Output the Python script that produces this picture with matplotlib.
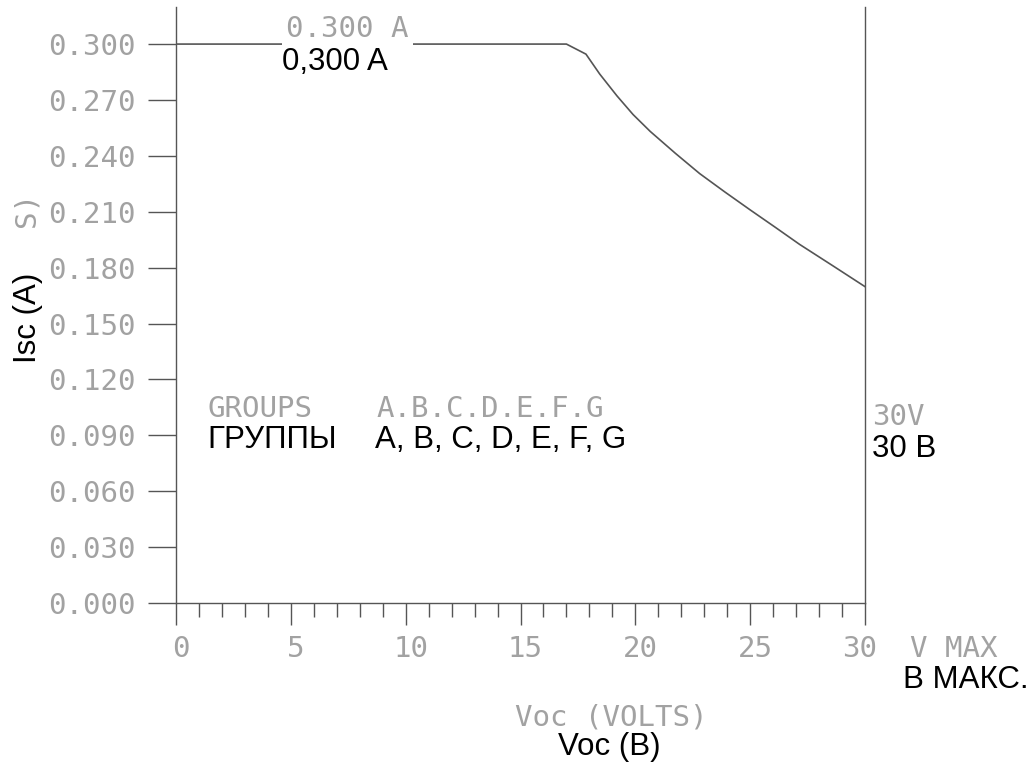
"""
Isc vs Voc operating envelope (groups A-G), CAD-style chart with Russian overlay labels.
"""

import matplotlib
matplotlib.use("Agg")
import matplotlib.pyplot as plt
import matplotlib.transforms as mtransforms
from matplotlib.ticker import MultipleLocator

# ============================================================
#  Data
# ============================================================

voc = [0.0, 17.0, 17.85, 18.45, 19.2, 19.9, 20.65, 21.75, 22.8, 23.9,
       25.0, 26.1, 27.15, 28.6, 30.0]                                   # V
isc = [0.300, 0.300, 0.2946, 0.2839, 0.2722, 0.2622, 0.2531, 0.2413, 0.2305, 0.2206,
       0.2110, 0.2016, 0.1925, 0.1810, 0.1698]                          # A

x_ticks = [0, 5, 10, 15, 20, 25, 30]
x_tick_labels = ["0", "5", "10", "15", "20", "25", ""]   # "30" is drawn with "V MAX"
y_ticks = [0.000, 0.030, 0.060, 0.090, 0.120, 0.150, 0.180, 0.210, 0.240, 0.270, 0.300]
y_tick_labels = [f"{v:.3f}" for v in y_ticks]

# ============================================================
#  Style
# ============================================================

_C_LINE = "#555555"
_C_CAD = "#a2a2a2"     # grey CAD lettering
_C_RU = "#000000"      # black overlay lettering
_CAD_FONT = "DejaVu Sans Mono"
_RU_FONT = "Liberation Sans"
_CAD_SIZE = 21
_RU_SIZE = 22.5

fig = plt.figure(figsize=(10.32, 7.67), dpi=100)
ax = fig.add_axes([176 / 1032, (767 - 603) / 767, 689 / 1032, 596 / 767])

# ── curve ──────────────────────────────────────────────────────────────
ax.plot(voc, isc, color=_C_LINE, linewidth=1.2, zorder=2)

# ── axes frame ─────────────────────────────────────────────────────────
ax.set_xlim(0, 30)
ax.set_ylim(0, 0.3199)
ax.spines["top"].set_visible(False)
for side in ("left", "right", "bottom"):
    ax.spines[side].set_color(_C_LINE)
    ax.spines[side].set_linewidth(1.0)

ax.set_xticks(x_ticks)
ax.set_xticklabels(x_tick_labels)
ax.xaxis.set_minor_locator(MultipleLocator(1))
ax.set_yticks(y_ticks)
ax.set_yticklabels(y_tick_labels)

ax.tick_params(axis="x", which="major", direction="out", length=16, width=1.0,
               color=_C_LINE, pad=7, labelsize=_CAD_SIZE, labelcolor=_C_CAD)
ax.tick_params(axis="x", which="minor", direction="out", length=10, width=1.0,
               color=_C_LINE)
ax.tick_params(axis="y", which="major", direction="out", length=20, width=1.0,
               color=_C_LINE, pad=9, labelsize=_CAD_SIZE, labelcolor=_C_CAD)
for lab in ax.get_xticklabels() + ax.get_yticklabels():
    lab.set_family(_CAD_FONT)

# CAD labels sit slightly right of their ticks
shift = mtransforms.ScaledTranslation(5 / 100, 0, fig.dpi_scale_trans)
for lab in ax.get_xticklabels():
    lab.set_transform(lab.get_transform() + shift)

# ── grey CAD annotations ───────────────────────────────────────────────
cad = dict(color=_C_CAD, family=_CAD_FONT, fontsize=_CAD_SIZE, va="baseline")
ax.text(4.79, 0.30376, "0.300 A", ha="left", zorder=3,
        bbox=dict(boxstyle="square,pad=0.15", facecolor="white", edgecolor="none"), **cad)
ax.text(1.39, 0.0998, "GROUPS", ha="left", **cad)
ax.text(8.75, 0.0998, "A.B.C.D.E.F.G", ha="left", **cad)
ax.text(30.30, 0.0955, "30V", ha="left", **cad)
ax.text(29.02, -0.0290, "30", ha="left", **cad)
ax.text(31.96, -0.0290, "V MAX", ha="left", **cad)
ax.text(14.76, -0.0655, "Voc (VOLTS)", ha="left", **cad)
ax.text(-6.49, 0.2114, "S)", ha="center", rotation=90,
        color=_C_CAD, family=_CAD_FONT, fontsize=_CAD_SIZE, va="center")

# ── black Russian overlay ──────────────────────────────────────────────
ru = dict(color=_C_RU, family=_RU_FONT, fontsize=_RU_SIZE, va="baseline", zorder=4)
ax.text(4.62, 0.28605, "0,300 A", ha="left", **ru)
ax.text(1.35, 0.08316, "ГРУППЫ", ha="left", **ru)
ax.text(8.66, 0.08316, "A, B, C, D, E, F, G", ha="left", **ru)
ax.text(30.30, 0.07832, "30 В", ha="left", **ru)
ax.text(31.65, -0.0457, "В МАКС.", ha="left", **ru)
ax.text(16.63, -0.0816, "Voc (В)", ha="left", **ru)
ax.text(-6.45, 0.153, "Isc (A)", ha="center", rotation=90,
        color=_C_RU, family=_RU_FONT, fontsize=_RU_SIZE, va="center",
        bbox=dict(boxstyle="square,pad=0.1", facecolor="white", edgecolor="none"))

fig.savefig("out.png", dpi=100)
plt.close(fig)
